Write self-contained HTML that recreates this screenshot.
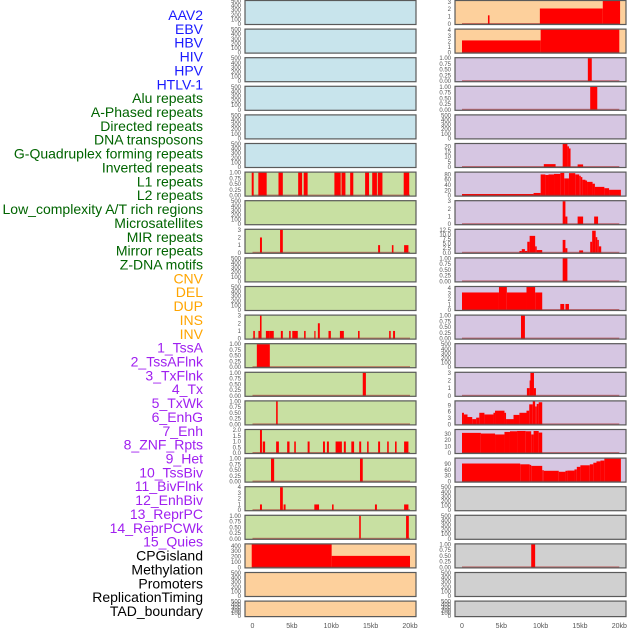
<!DOCTYPE html>
<html><head><meta charset="utf-8">
<style>
html,body{margin:0;padding:0;background:#fff;width:630px;height:630px;overflow:hidden}
svg{display:block}
</style></head>
<body>
<svg id="chart" width="630" height="630" xmlns="http://www.w3.org/2000/svg" font-family="Liberation Sans, sans-serif"></svg>
<script>
// ---------- labels ----------
const trackLabels = ["AAV2","EBV","HBV","HIV","HPV","HTLV-1","Alu repeats","A-Phased repeats","Directed repeats","DNA transposons","G-Quadruplex forming repeats","Inverted repeats","L1 repeats","L2 repeats","Low_complexity A/T rich regions","Microsatellites","MIR repeats","Mirror repeats","Z-DNA motifs","CNV","DEL","DUP","INS","INV","1_TssA","2_TssAFlnk","3_TxFlnk","4_Tx","5_TxWk","6_EnhG","7_Enh","8_ZNF_Rpts","9_Het","10_TssBiv","11_BivFlnk","12_EnhBiv","13_ReprPC","14_ReprPCWk","15_Quies","CPGisland","Methylation","Promoters","ReplicationTiming","TAD_boundary"];
const labelGroups = [6,13,5,15,5];
const groupColors = ["#1a1aff","#006400","#ffa500","#a020f0","#000000"];
const xTickValues = [0,5,10,15,20];
const xTickLabels = ["0","5kb","10kb","15kb","20kb"];

// ---------- left column panel data: [startKb, endKb, value] ----------
const leftKinds = ["blue","blue","blue","blue","blue","blue","green","green","green","green","green","green","green","green","green","green","green","green","green","orange","orange","orange"];
const leftYmax = [500,500,500,500,500,500,1,500,3,500,500,3,1,1,1,2,1,4,1,425,500,500];
const leftTicks = [null,null,null,null,null,null,"p",null,[0,1,2,3],null,null,[0,1,2,3],"p","p","p",[0,0.5,1,1.5,2],"p",[0,1,2,3,4],"p",[0,100,200,300,400],null,null];
const leftRow6 = [[-0.1,0.15,1],[0.74,1.8,1],[3.3,3.85,1],[5.8,6.3,1],[6.5,7.0,1],[10.4,11.2,1],[11.3,11.8,1],[12.4,12.8,1],[14.3,14.8,1],[15.2,15.8,1],[15.9,16.5,1],[19.2,19.9,1]];
const leftRow8 = [[0.95,1.2,2],[3.5,3.85,3],[15.95,16.2,1],[17.7,17.9,1],[19.25,19.8,1]];
const leftRow11 = [[0.1,0.3,1],[0.75,1.05,1],[0.95,1.15,3],[1.7,2.2,1],[2.2,2.7,1],[3.6,3.85,1],[4.65,4.85,1],[5.05,5.75,1],[6.55,6.75,1],[7.85,8.0,1],[8.3,8.55,2],[9.65,9.95,1],[11.1,11.6,1],[13.4,13.6,1],[17.35,17.55,1],[17.85,18.1,1]];
const leftRow12 = [[0.55,2.2,1]];
const leftRow13 = [[14.0,14.4,1]];
const leftRow14 = [[3.0,3.2,1]];
const leftRow15 = [[0.95,1.2,2],[1.3,1.6,1],[3.0,3.35,1],[4.4,4.7,1],[5.3,5.5,1],[7.0,7.25,1],[8.95,9.2,1],[9.45,9.7,1],[10.55,11.35,1],[11.6,11.85,1],[12.55,12.9,1],[13.55,13.8,1],[14.55,14.75,1],[15.95,16.2,1],[17.1,17.3,1],[18.1,18.3,1],[19.25,19.8,1]];
const leftRow16 = [[2.35,2.75,1],[13.65,14.0,1]];
const leftRow17 = [[0.95,1.2,1],[3.5,3.85,4],[3.95,4.2,1],[7.85,8.45,1],[10.1,10.3,1],[15.55,15.8,1],[19.25,19.8,1]];
const leftRow18 = [[13.55,13.75,1],[19.5,19.85,1]];
const leftRow19 = [[-0.1,10.05,425],[10.05,20,213]];
const leftBars = {6:leftRow6,8:leftRow8,11:leftRow11,12:leftRow12,13:leftRow13,14:leftRow14,15:leftRow15,16:leftRow16,17:leftRow17,18:leftRow18,19:leftRow19};

// ---------- right column panel data ----------
const rightKinds = ["orange","orange","purple","purple","purple","purple","purple","purple","purple","purple","purple","purple","purple","purple","purple","purple","purple","gray","gray","gray","gray","gray"];
const rightYmax = [3.1,4.1,1,1,500,22.3,87,3,12.5,1,4.2,1,500,3,10.9,36,117,500,500,1,500,500];
const rightTicks = [[0,1,2,3],[0,1,2,3,4],"p","p",null,[0,5,10,15,20],[0,20,40,60,80],[0,1,2,3],[0,2.5,5,7.5,10,12.5],"p",[0,1,2,3,4],"p",null,[0,1,2,3],[0,3,6,9],[0,10,20,30],[0,30,60,90],null,null,"p",null,null];
const rightRow0 = [[3.3,3.5,1.17],[9.9,17.9,2.09],[17.9,20.1,3.1]];
const rightRow1 = [[0,10,2.17],[10,20,4.1]];
const rightRow2 = [[16.0,16.5,1]];
const rightRow3 = [[16.3,17.2,1]];
const rightRow5 = [[10.4,11.9,2.8],[12.8,13.4,22.3],[13.4,13.6,20],[13.6,13.8,18],[14.7,15.4,2.5]];
const rightRow6 = [[0,9.1,6],[9.1,10,10],[10,10.6,80],[10.6,11.0,78],[11.0,11.7,80],[11.7,12.5,82],[12.5,13.0,86],[13.0,13.6,65],[13.6,14.4,85],[14.4,14.9,80],[14.9,15.1,75],[15.1,15.3,70],[15.3,15.7,60],[15.7,15.9,57],[15.9,16.6,52],[16.6,16.9,45],[16.9,18.1,33],[18.1,18.7,28],[18.7,20.2,22]];
const rightRow7 = [[12.8,13.15,3],[13.15,13.4,1],[14.7,15.4,1],[16.8,17.3,1]];
const rightRow8 = [[7.3,7.6,1],[7.6,8.0,2],[8.0,8.3,1],[8.3,8.6,6],[8.6,9.3,9.2],[9.3,9.5,3.5],[9.5,10.2,1.5],[12.8,13.15,7],[13.15,13.4,2.5],[14.9,15.4,1.3],[16.3,16.55,6],[16.55,17.0,12],[17.0,17.2,8.5],[17.2,17.4,7],[17.4,17.7,3.5]];
const rightRow9 = [[12.8,13.4,1]];
const rightRow10 = [[0,4.7,3.2],[4.7,5.7,4.2],[5.7,8.2,3.2],[8.2,9.3,4.2],[9.3,10.2,3.2],[12.5,13.0,1.1],[13.15,13.6,1.1]];
const rightRow11 = [[7.5,8.0,1]];
const rightRow13 = [[8.25,8.6,1],[8.6,8.8,2],[8.7,9.15,3],[9.15,9.4,1]];
const rightRow14 = [[0,0.25,5.5],[0.25,0.7,4.7],[0.7,1.3,3.5],[1.3,1.8,2.5],[1.8,2.2,3.2],[2.2,2.85,5.5],[2.85,4.0,4.7],[4.0,4.2,5.5],[4.2,5.4,6.5],[5.4,5.6,5.5],[5.6,6.55,2.5],[6.55,7.3,4.5],[7.3,8.2,5.5],[8.2,8.55,6.5],[8.55,9.0,9.5],[9.0,9.3,11],[9.3,9.5,8.5],[9.5,9.75,9.7],[9.75,10.2,10.5]];
const rightRow15 = [[0,2.4,31.5],[2.4,4.2,30.5],[4.2,5.4,29],[5.4,6.1,33],[6.1,7.0,34],[7.0,8.1,34.5],[8.1,8.8,34],[8.8,9.1,29],[9.1,9.75,34.5],[9.75,10.2,32]];
const rightRow16 = [[0,7.4,92],[7.4,8.6,88],[8.6,8.8,85],[8.8,10.2,80],[10.2,10.4,58],[10.4,12.3,55],[12.3,13.15,50],[13.15,13.4,55],[13.4,14.3,56],[14.3,14.6,62],[14.6,15.05,75],[15.05,16.25,83],[16.25,16.7,88],[16.7,17.1,96],[17.1,17.6,103],[17.6,18.1,107],[18.1,20.2,117]];
const rightRow19 = [[8.8,9.3,1]];
const rightBars = {0:rightRow0,1:rightRow1,2:rightRow2,3:rightRow3,5:rightRow5,6:rightRow6,7:rightRow7,8:rightRow8,9:rightRow9,10:rightRow10,11:rightRow11,13:rightRow13,14:rightRow14,15:rightRow15,16:rightRow16,19:rightRow19};

const fills = {blue:"#c8e4ec",green:"#c8e0a2",orange:"#fdd09c",purple:"#d6c6e2",gray:"#d0d0d0"};
const NS = "http://www.w3.org/2000/svg";
const svg = document.getElementById("chart");
function mk(tag, attrs, parent){const e=document.createElementNS(NS,tag);for(const k in attrs)e.setAttribute(k,attrs[k]);(parent||svg).appendChild(e);return e;}

// labels
let li=0;
const lg = mk("g",{});


labelGroups.forEach((n,g)=>{for(let j=0;j<n;j++){const t=mk("text",{x:203,y:15+li*13.86+5,"text-anchor":"end","font-size":"14",fill:groupColors[g]},lg);t.textContent=trackLabels[li];


li++;}});

function panelTop(i){return i*28.6;}
function panelH(i){return i===21?16.5:25;}

function drawColumn(side, x0, x1, z0, z20, kinds, ymaxes, ticks, bars){
  const xs = kb => z0 + (kb/20)*(z20-z0);
  const col = mk("g",{});
  
  
  kinds.forEach((kind,i)=>{
    const top=panelTop(i), h=panelH(i), bot=top+h;
    const ymax=ymaxes[i];
    const ys = v => bot-1 - (Math.min(v,ymax)/ymax)*(h-2);
    const g = mk("g",{},col);
    
    
    mk("rect",{x:x0,y:top,width:x1-x0,height:h,fill:fills[kind]},g);
    // ticks
    let tv = ticks[i], fmt = v=>String(v);
    if(tv==="p"){tv=[0,0.25,0.5,0.75,1];fmt=v=>v.toFixed(2);}
    else if(tv===null){tv=[0,100,200,300,400,500];}
    else if(tv.some(v=>v%1!==0)){fmt=v=>v.toFixed(1);}
    tv.forEach(v=>{const t=mk("text",{x:x0-4,y:ys(v)+2,"text-anchor":"end","font-size":"6",fill:"#555"},g);t.textContent=fmt(v);
      
      });
    const b = bars[i];
    if(b){
      b.forEach(s=>{const r=mk("rect",{x:xs(s[0]),y:ys(s[2]),width:Math.max(1.2,xs(s[1])-xs(s[0])),height:(bot-1)-ys(s[2]),fill:"#ff0000"},g);
        
        });
      const bl=mk("rect",{x:xs(0),y:bot-2,width:xs(20)-xs(0),height:1.5,fill:"rgba(170,40,40,0.6)"},g);
      
      
    }
    mk("rect",{x:x0,y:top+0.5,width:x1-x0,height:h-1,fill:"none",stroke:"#5a5a5a","stroke-width":1.2},g);
  });
  xTickValues.forEach((v,k)=>{const t=mk("text",{x:xs(v),y:628,"text-anchor":"middle","font-size":"7",fill:"#555"},col);t.textContent=xTickLabels[k];
    
    });
}
drawColumn("left",245,416,252.5,410,leftKinds,leftYmax,leftTicks,leftBars);
drawColumn("right",455,626,462,619.3,rightKinds,rightYmax,rightTicks,rightBars);
</script>
</body></html>
